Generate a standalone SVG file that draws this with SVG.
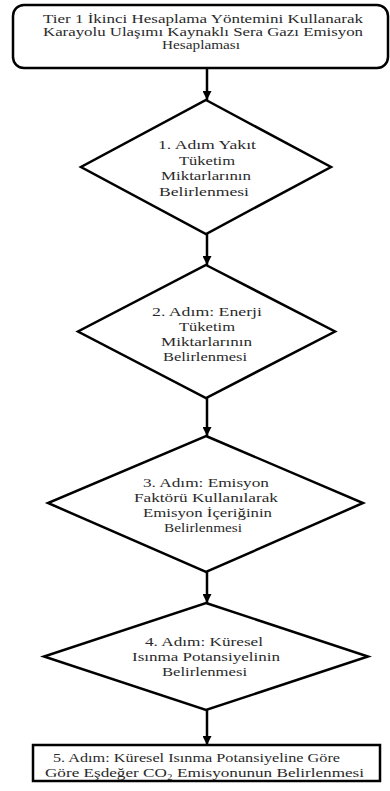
<svg xmlns="http://www.w3.org/2000/svg" width="390" height="791" viewBox="0 0 390 791">
<defs>
<style>
.n{fill:#fff;stroke:#000;stroke-width:2.5;stroke-linejoin:miter}
.t{font-family:"Liberation Serif","Times New Roman",serif;fill:#2a2a2a;text-anchor:middle}
.t1{font-size:11.5px}
.t2{font-size:13.5px}
.c{stroke:#000;stroke-width:2.5;fill:none}
</style>
<marker id="ah" viewBox="0 0 10 10" refX="10" refY="5" markerWidth="3.6" markerHeight="3.6" markerUnits="strokeWidth" orient="auto">
<path d="M0,0 L10,5 L0,10 Z" fill="#000"/>
</marker>
</defs>
<rect width="390" height="791" fill="#fff"/>
<g id="connectors">
<line class="c" x1="207" y1="68" x2="207" y2="100" marker-end="url(#ah)"/>
<line class="c" x1="207" y1="234" x2="207" y2="265" marker-end="url(#ah)"/>
<line class="c" x1="207" y1="398" x2="207" y2="436" marker-end="url(#ah)"/>
<line class="c" x1="207" y1="572" x2="207" y2="603" marker-end="url(#ah)"/>
<line class="c" x1="207" y1="710" x2="207" y2="745" marker-end="url(#ah)"/>
</g>
<g id="start">
<rect class="n" x="13" y="5" width="375" height="63" rx="11" ry="11"/>
<text class="t t1" x="203" y="22.5" textLength="320" lengthAdjust="spacingAndGlyphs">Tier 1 İkinci Hesaplama Yöntemini Kullanarak</text>
<text class="t t1" x="203" y="35.5" textLength="320" lengthAdjust="spacingAndGlyphs">Karayolu Ulaşımı Kaynaklı Sera Gazı Emisyon</text>
<text class="t t1" x="201" y="48.5" textLength="78" lengthAdjust="spacingAndGlyphs">Hesaplaması</text>
</g>
<g id="step1">
<polygon class="n" points="206,100 331,167 206,234 81,167"/>
<text class="t t2" x="207" y="149" textLength="98" lengthAdjust="spacingAndGlyphs">1. Adım Yakıt</text>
<text class="t t2" x="207" y="164.5" textLength="56" lengthAdjust="spacingAndGlyphs">Tüketim</text>
<text class="t t2" x="206" y="180" textLength="90" lengthAdjust="spacingAndGlyphs">Miktarlarının</text>
<text class="t t2" x="204" y="195.5" textLength="90" lengthAdjust="spacingAndGlyphs">Belirlenmesi</text>
</g>
<g id="step2">
<polygon class="n" points="206,265 335,331.5 206,398 78,331.5"/>
<text class="t t2" x="207" y="316" textLength="110" lengthAdjust="spacingAndGlyphs">2. Adım: Enerji</text>
<text class="t t2" x="207" y="331" textLength="56" lengthAdjust="spacingAndGlyphs">Tüketim</text>
<text class="t t2" x="206.5" y="345.5" textLength="91" lengthAdjust="spacingAndGlyphs">Miktarlarının</text>
<text class="t t2" x="205" y="360.5" textLength="84" lengthAdjust="spacingAndGlyphs">Belirlenmesi</text>
</g>
<g id="step3">
<polygon class="n" points="206,436 363,503 206,572 48,503"/>
<text class="t t2" x="206" y="487" textLength="126" lengthAdjust="spacingAndGlyphs">3. Adım: Emisyon</text>
<text class="t t2" x="206" y="502" textLength="144" lengthAdjust="spacingAndGlyphs">Faktörü Kullanılarak</text>
<text class="t t2" x="207.5" y="517" textLength="129" lengthAdjust="spacingAndGlyphs">Emisyon İçeriğinin</text>
<text class="t t2" x="203" y="532" textLength="78" lengthAdjust="spacingAndGlyphs">Belirlenmesi</text>
</g>
<g id="step4">
<polygon class="n" points="206,603 368,656.5 206,710 44,656.5"/>
<text class="t t2" x="204" y="646" textLength="118" lengthAdjust="spacingAndGlyphs">4. Adım: Küresel</text>
<text class="t t2" x="206" y="661" textLength="148" lengthAdjust="spacingAndGlyphs">Isınma Potansiyelinin</text>
<text class="t t2" x="204.5" y="676" textLength="85" lengthAdjust="spacingAndGlyphs">Belirlenmesi</text>
</g>
<g id="step5">
<rect class="n" x="33" y="745" width="347" height="36" stroke-width="2.8"/>
<text class="t t2" x="196.5" y="762" textLength="287" lengthAdjust="spacingAndGlyphs">5. Adım: Küresel Isınma Potansiyeline Göre</text>
<text class="t t2" x="204.5" y="777" textLength="319" lengthAdjust="spacingAndGlyphs">Göre Eşdeğer CO₂ Emisyonunun Belirlenmesi</text>
</g>
</svg>
